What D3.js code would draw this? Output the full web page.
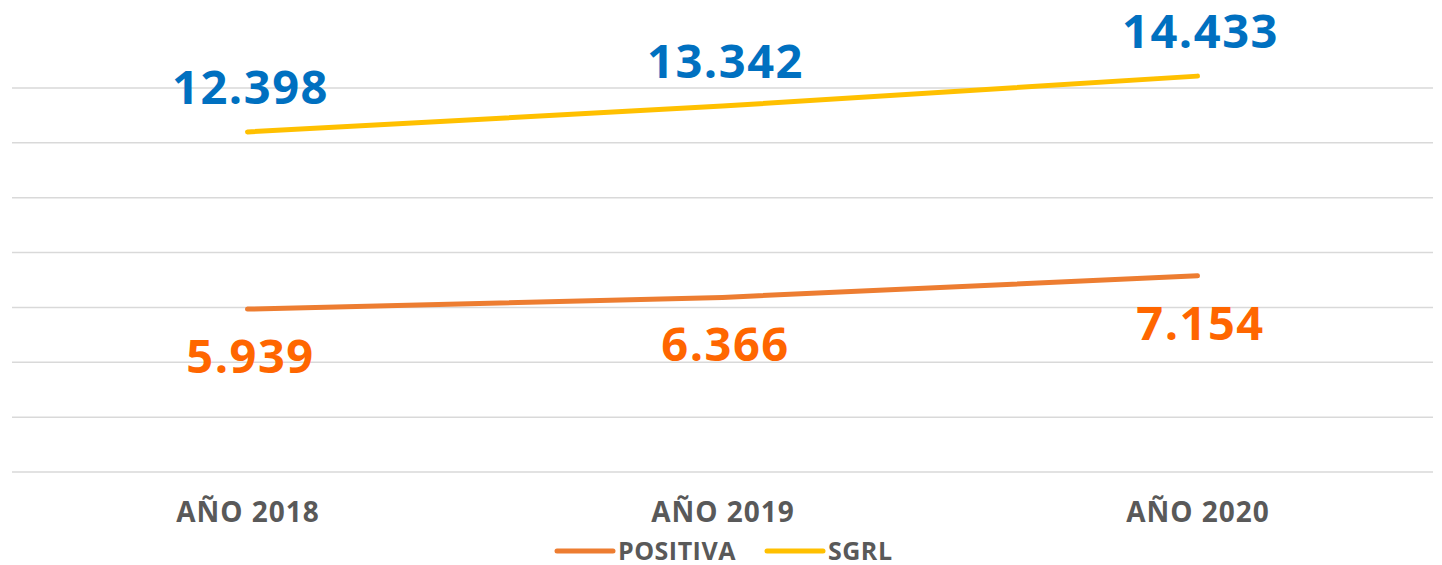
<!DOCTYPE html>
<html>
<head>
<meta charset="utf-8">
<script src="https://cdn.jsdelivr.net/npm/d3@7"></script>
<style>
  html, body { margin: 0; padding: 0; background: #fff; }
  svg { display: block; font-family: "Open Sans", sans-serif; }
</style>
</head>
<body>
<svg width="1442" height="565"></svg>
<script>
// ---- Datos
const years = ["AÑO 2018", "AÑO 2019", "AÑO 2020"];
const positiva = [5939, 6366, 7154];
const sgrl = [12398, 13342, 14433];
const gridTicks = [0, 2000, 4000, 6000, 8000, 10000, 12000, 14000];

const series = [
    { name: "POSITIVA", values: positiva, color: "#ED7D31", labelColor: "#FF6600", labelDy: 64 },
    { name: "SGRL", values: sgrl, color: "#FFC000", labelColor: "#0070C0", labelDy: -28 }
];

const svg = d3.select('svg');
const fmt = v => d3.format(",")(v).replace(/,/g, ".");

// ---- Escalas
const mapX = d3.scalePoint().domain(years).range([10, 1435]).padding(0.5);
const mapY = d3.scaleLinear().domain([0, 14000]).range([472, 88]);

// ---- Líneas de cuadrícula
svg.append('g')
    .selectAll('line')
    .data(gridTicks)
    .join('line')
    .attr('x1', 12).attr('x2', 1433)
    .attr('y1', d => mapY(d)).attr('y2', d => mapY(d))
    .attr('stroke', '#d9d9d9')
    .attr('stroke-width', 1.5);

// ---- Eje X (etiquetas)
const xAxis = d3.axisBottom(mapX).tickSize(0).tickPadding(0);
svg.append('g')
    .attr('transform', 'translate(0, 472)')
    .call(xAxis)
    .call(g => g.select('.domain').remove())
    .selectAll('text')
    .attr('y', 50)
    .attr('dy', 0)
    .attr('font-family', '"Open Sans", sans-serif')
    .attr('font-size', 28)
    .attr('font-weight', 'bold')
    .attr('letter-spacing', 1)
    .attr('fill', '#595959');

// ---- Líneas
const line = d3.line()
    .x((d, i) => mapX(years[i]))
    .y(d => mapY(d));

svg.append('g')
    .selectAll('path')
    .data(series)
    .join('path')
    .attr('d', d => line(d.values))
    .attr('fill', 'none')
    .attr('stroke', d => d.color)
    .attr('stroke-width', 5)
    .attr('stroke-linecap', 'round');

// ---- Etiquetas de datos
series.forEach(s => {
    svg.append('g')
        .selectAll('text')
        .data(s.values)
        .join('text')
        .attr('x', (d, i) => mapX(years[i]) + 3)
        .attr('y', d => mapY(d) + s.labelDy)
        .attr('text-anchor', 'middle')
        .attr('font-size', 47)
        .attr('font-weight', 'bold')
        .attr('letter-spacing', 1.5)
        .attr('fill', s.labelColor)
        .text(d => fmt(d));
});

// ---- Leyenda
const legend = svg.append('g').attr('transform', 'translate(557, 551)');
const legendX = [0, 210];
series.forEach((s, i) => {
    const item = legend.append('g').attr('transform', `translate(${legendX[i]}, 0)`);
    item.append('line')
        .attr('x1', 0).attr('x2', 56)
        .attr('stroke', s.color)
        .attr('stroke-width', 5)
        .attr('stroke-linecap', 'round');
    item.append('text')
        .attr('x', 61)
        .attr('y', 9)
        .attr('font-size', 25)
        .attr('font-weight', 'bold')
        .attr('letter-spacing', 0.5)
        .attr('fill', '#595959')
        .text(s.name);
});
</script>
</body>
</html>
